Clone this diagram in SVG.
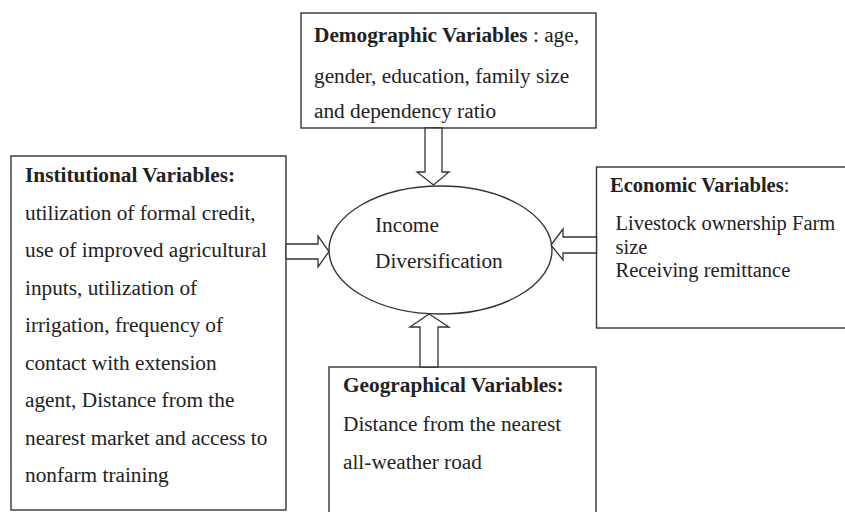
<svg xmlns="http://www.w3.org/2000/svg" width="845" height="512" viewBox="0 0 845 512">
<style>
.box{fill:#fff;stroke:#333;stroke-width:1.4}
.arr{fill:#fff;stroke:#333;stroke-width:1.3;stroke-linejoin:miter}
text{font-family:"Liberation Serif","Times New Roman",serif;font-size:21.3px;fill:#222}
.b{font-weight:bold}
.s{font-size:20.5px}
</style>
<rect width="845" height="512" fill="#fff"/>
<g id="demographic">
<rect class="box" x="301" y="13" width="295" height="115"/>
<text x="314" y="41.5"><tspan class="b">Demographic Variables</tspan> : age,</text>
<text x="314" y="83">gender, education, family size</text>
<text x="314" y="118">and dependency ratio</text>
</g>
<g id="institutional">
<rect class="box" x="11" y="156" width="275" height="354"/>
<text x="25" y="182" class="b">Institutional Variables:</text>
<text x="25" y="219.5">utilization of formal credit,</text>
<text x="25" y="257">use of improved agricultural</text>
<text x="25" y="294.5">inputs, utilization of</text>
<text x="25" y="332">irrigation, frequency of</text>
<text x="25" y="369.5">contact with extension</text>
<text x="25" y="407">agent, Distance from the</text>
<text x="25" y="444.5">nearest market and access to</text>
<text x="25" y="482">nonfarm training</text>
</g>
<g id="economic">
<rect class="box" x="596.5" y="167" width="260" height="161"/>
<text class="s" x="610" y="192"><tspan class="b">Economic Variables</tspan>:</text>
<text class="s" x="615.5" y="230">Livestock ownership Farm</text>
<text class="s" x="615.5" y="254">size</text>
<text class="s" x="615.5" y="277">Receiving remittance</text>
</g>
<g id="geographical">
<rect class="box" x="329" y="367" width="267" height="160"/>
<text x="343" y="392" class="b">Geographical Variables:</text>
<text x="343" y="430.5">Distance from the nearest</text>
<text x="343" y="469">all-weather road</text>
</g>
<g id="income">
<ellipse class="box" cx="440.5" cy="250" rx="111.5" ry="64"/>
<text x="375" y="232">Income</text>
<text x="375" y="268">Diversification</text>
</g>
<g id="connectors">
<polygon class="arr" points="425,128 442,128 442,172 449,172 433.5,185 417,172 425,172"/>
<polygon class="arr" points="286,244 318,244 318,236 329,251.5 318,267 318,259 286,259"/>
<polygon class="arr" points="596.5,237 563,237 563,229 551,245 563,260 563,253 596.5,253"/>
<polygon class="arr" points="420,367 420,327 410,327 429,314 449,327 438,327 438,367"/>
</g>
</svg>
